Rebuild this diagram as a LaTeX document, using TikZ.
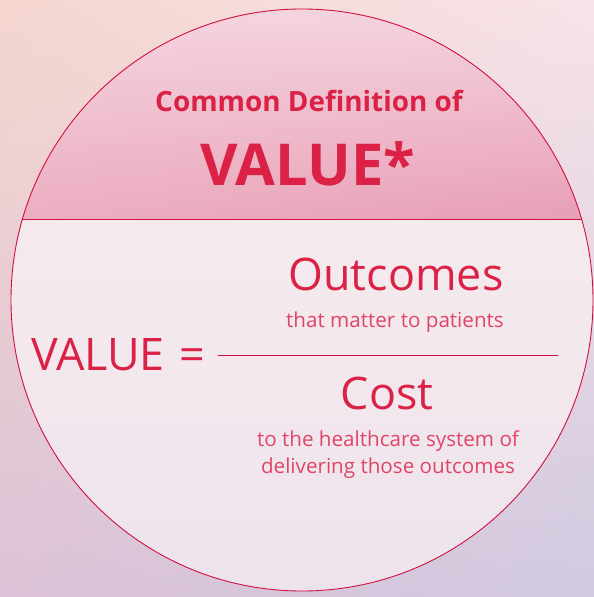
\documentclass[tikz,border=0pt]{standalone}
\usepackage{fontspec}
\setmainfont{Open Sans}
\usepackage{tikz}
\usetikzlibrary{positioning}
\usetikzlibrary{shadings}
\definecolor{valred}{rgb}{0.86, 0.13, 0.27}
\definecolor{linered}{rgb}{0.82, 0.06, 0.25}
\definecolor{subred}{rgb}{0.88, 0.27, 0.40}
\definecolor{bgpeach}{rgb}{0.96, 0.84, 0.81}
\definecolor{bgpink}{rgb}{0.97, 0.89, 0.91}
\definecolor{bgmauve}{rgb}{0.86, 0.76, 0.84}
\definecolor{bglilac}{rgb}{0.82, 0.79, 0.88}
\definecolor{caplight}{rgb}{0.96, 0.84, 0.88}
\definecolor{capdark}{rgb}{0.91, 0.62, 0.71}
\definecolor{bodylight}{rgb}{0.96, 0.92, 0.93}
\definecolor{bodylilac}{rgb}{0.93, 0.89, 0.93}
\tikzset{
  bigtext/.style={text=valred, inner sep=0pt, anchor=base},
  subtext/.style={text=subred, inner sep=0pt, anchor=base, font=\fontsize{20.7}{27}\selectfont, align=center}
}

\begin{document}
\begin{tikzpicture}[line cap=round,line join=round, x=1bp,y=-1bp]
\useasboundingbox (0,0) rectangle (594,597);
\shade[upper left=bgpeach, upper right=bgpink, lower left=bgmauve, lower right=bglilac] (0,0) rectangle (594,597);
\begin{scope}
\clip (302,300) circle (291);
\shade[upper left=bodylight, upper right=bodylight, lower left=bodylilac, lower right=bodylilac] (0,219) rectangle (594,597);
\shade[upper left=caplight, upper right=caplight, lower left=capdark!70!caplight, lower right=capdark] (0,0) rectangle (594,219);
\end{scope}
\draw [color=linered, line width=0.9bp] (302,300) circle (291);
\coordinate (capL) at (20,219);
\coordinate (capR) at (584,219);
\begin{scope}
\clip (302,300) circle (291);
\draw [color=linered, line width=0.9bp] (capL) -- (capR);
\end{scope}
\node[bigtext, font=\fontsize{28}{30}\bfseries] (title) at (309,112) {Common Definition of};
\node[bigtext, font=\fontsize{58}{64}\bfseries] (big) at (308,185) {VALUE*};
\node[bigtext, font=\fontsize{45}{50}\selectfont, anchor=base west] (lhs) at (31,370) {VALUE\,\,=};
\coordinate (barL) at (218,355);
\coordinate (barR) at (558,355);
\draw [color=linered, line width=0.9bp] (barL) -- (barR);
\node[bigtext, font=\fontsize{45}{50}\selectfont] (num) at (396,290) {Outcomes};
\node[subtext] (numsub) at (395,327) {that matter to patients};
\node[bigtext, font=\fontsize{45}{50}\selectfont] (den) at (387,409) {Cost};
\node[subtext] (densub) at (388,473) {to the healthcare system of\\delivering those outcomes};
\end{tikzpicture}
\end{document}
